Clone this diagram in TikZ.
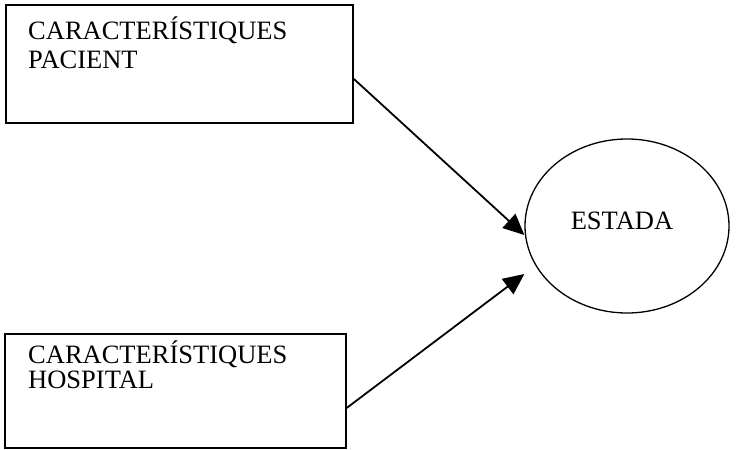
\documentclass[tikz,border=0pt]{standalone}
\usepackage{fontspec}
\setmainfont{Liberation Serif}
\usetikzlibrary{arrows.meta,shapes.geometric}
\begin{document}
\begin{tikzpicture}[x=1pt,y=-1pt,
  boxnode/.style={draw,line width=1.8pt,rectangle,inner sep=0pt,anchor=north west},
  txt/.style={font=\fontsize{26.5}{29}\selectfont,inner sep=0pt,anchor=base west,align=left},
  arr/.style={line width=1.8pt,-{Triangle[length=21pt,width=19pt]}}]
\useasboundingbox (0,0) rectangle (737,450);
\node[boxnode,minimum width=347pt,minimum height=118pt] (pac) at (5,4) {};
\node[boxnode,minimum width=341pt,minimum height=114pt] (hos) at (4,333) {};
\node[draw,ellipse,line width=1.3pt,minimum width=204pt,minimum height=174pt,inner sep=0pt] (est) at (627,226) {};
\node[txt] (pact) at (28,39) {CARACTERÍSTIQUES};
\node[txt] (pact2) at (28,68) {PACIENT};
\node[txt] (host) at (28,363) {CARACTERÍSTIQUES};
\node[txt] (host2) at (28,388) {HOSPITAL};
\node[font=\fontsize{26.5}{29}\selectfont,inner sep=0pt,anchor=base] (estt) at (622,229) {ESTADA};
\draw[arr] ([yshift=-15pt]pac.east) -- ([yshift=-9pt]est.west);
\draw[arr] ([yshift=-17pt]hos.east) -- ([yshift=-48pt]est.west);
\end{tikzpicture}
\end{document}
